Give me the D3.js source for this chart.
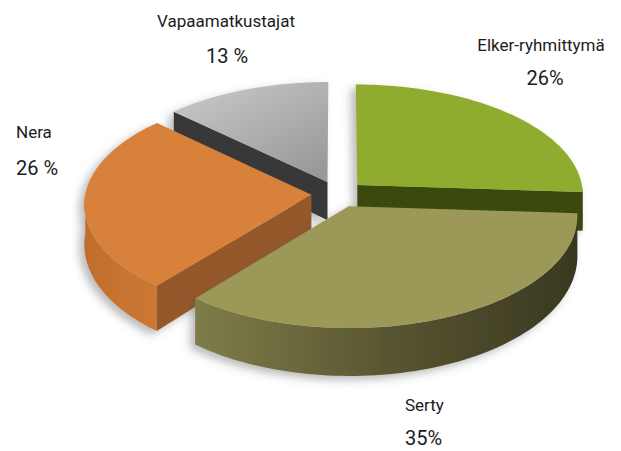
<!DOCTYPE html>
<html>
<head>
<meta charset="utf-8">
<script src="https://cdn.jsdelivr.net/npm/d3@7"></script>
<style>
  body { margin: 0; background: #fff; }
  svg text { font-family: Roboto, "Open Sans", sans-serif; fill: #1c1c1c; }
</style>
</head>
<body>
<div id="chart"></div>
<script>
// chart data
const categories = ["Elker-ryhmittymä", "Serty", "Nera", "Vapaamatkustajat"];
const shares = [26, 35, 26, 13];
const shareLabels = ["26%", "35%", "26 %", "13 %"];

// colours per slice: top face, radial wall, curved side
const topColors = ["#8fac2d", "#9c9858", "#d8813b", "url(#greyTop)"];
const wallColors = ["#3b4a11", "#3e3d24", "#95592a", "#383838"];
const sideColors = ["#5a6d1c", "url(#sertySide)", "url(#neraSide)", "#505050"];

// label placement
const labelPos = [
    {x: 541, y: 51, px: 545, py: 85, anchor: "middle"},
    {x: 405, y: 411, px: 405, py: 445, anchor: "start"},
    {x: 16, y: 138, px: 16, py: 175, anchor: "start"},
    {x: 226, y: 27, px: 227, py: 63, anchor: "middle"}
];

let width = 621, height = 451;
let cx = 338, cy = 194;   // centre of the (unexploded) pie
let rx = 226, ry = 111;   // radii of the tilted disc
let depth = 39;           // thickness of the pie
let explode = 0.118;

// fake perspective: front of the disc a bit larger than the back
function project(X, Z, h) {
    let s = 1 + 0.08 * Z;
    return [cx + X * rx * s, cy + Z * (ry + 9 * Z) + h * (depth + 8 * Z)];
}

let svg = d3.select("#chart")
    .append("svg")
    .attr("width", width)
    .attr("height", height);

let defs = svg.append("defs");

let g1 = defs.append("linearGradient").attr("id", "greyTop")
    .attr("x1", 0).attr("y1", 0).attr("x2", 0.8).attr("y2", 1);
g1.append("stop").attr("offset", 0).attr("stop-color", "#cbcbcb");
g1.append("stop").attr("offset", 1).attr("stop-color", "#999999");

let g2 = defs.append("linearGradient").attr("id", "sertySide");
g2.append("stop").attr("offset", 0).attr("stop-color", "#7f7c4a");
g2.append("stop").attr("offset", 0.55).attr("stop-color", "#55532f");
g2.append("stop").attr("offset", 1).attr("stop-color", "#393822");

let g3 = defs.append("linearGradient").attr("id", "neraSide");
g3.append("stop").attr("offset", 0).attr("stop-color", "#c06d2c");
g3.append("stop").attr("offset", 1).attr("stop-color", "#cd7934");

let shadow = defs.append("filter").attr("id", "shadow")
    .attr("x", "-20%").attr("y", "-20%").attr("width", "140%").attr("height", "140%");
shadow.append("feDropShadow")
    .attr("dx", -5).attr("dy", 4)
    .attr("stdDeviation", 4)
    .attr("flood-color", "#555")
    .attr("flood-opacity", 0.4);

let pie = d3.pie().sort(null).value(d => d);
const arcs = pie(shares);

let line = d3.line();

function slicePaths(d) {
    let a0 = d.startAngle, a1 = d.endAngle;
    let mid = (a0 + a1) / 2;
    let ox = explode * Math.sin(mid), oz = -explode * Math.cos(mid);
    let pt = (t, r, h) => project(ox + r * Math.sin(t), oz - r * Math.cos(t), h);

    let steps = 80;
    let topPts = [pt(0, 0, 0)];
    for (let i = 0; i <= steps; i++)
        topPts.push(pt(a0 + (a1 - a0) * i / steps, 1, 0));

    let faces = [];
    // curved outer side, only the part that faces us
    let s0 = Math.max(a0, Math.PI / 2), s1 = Math.min(a1, Math.PI * 1.5);
    if (s1 > s0) {
        let up = [], down = [];
        for (let i = 0; i <= steps; i++) {
            let t = s0 + (s1 - s0) * i / steps;
            up.push(pt(t, 1, 0));
            down.push(pt(t, 1, 1));
        }
        faces.push({type: "side", pts: up.concat(down.reverse())});
    }
    // radial walls
    if (Math.sin(a0) < -0.01)
        faces.push({type: "wall", pts: [pt(a0, 0, 0), pt(a0, 1, 0), pt(a0, 1, 1), pt(a0, 0, 1)]});
    if (Math.sin(a1) > 0.01)
        faces.push({type: "wall", pts: [pt(a1, 0, 0), pt(a1, 1, 0), pt(a1, 1, 1), pt(a1, 0, 1)]});

    return {faces: faces, top: topPts, z: oz};
}

// paint from back to front
let slices = arcs.map((d, i) => Object.assign({i: i}, slicePaths(d)));
slices.sort((a, b) => a.z - b.z);

slices.forEach(function (s) {
    let g = svg.append("g").attr("filter", "url(#shadow)");
    s.faces.forEach(function (f) {
        g.append("path")
            .attr("d", line(f.pts) + "Z")
            .attr("fill", f.type === "wall" ? wallColors[s.i] : sideColors[s.i]);
    });
    g.append("path")
        .attr("d", line(s.top) + "Z")
        .attr("fill", topColors[s.i]);
});

// labels
categories.forEach(function (c, i) {
    let p = labelPos[i];
    svg.append("text")
        .attr("x", p.x).attr("y", p.y)
        .attr("text-anchor", p.anchor)
        .style("font-size", "17px")
        .text(c);
    svg.append("text")
        .attr("x", p.px).attr("y", p.py)
        .attr("text-anchor", p.anchor)
        .style("font-size", "20px")
        .text(shareLabels[i]);
});
</script>
</body>
</html>
